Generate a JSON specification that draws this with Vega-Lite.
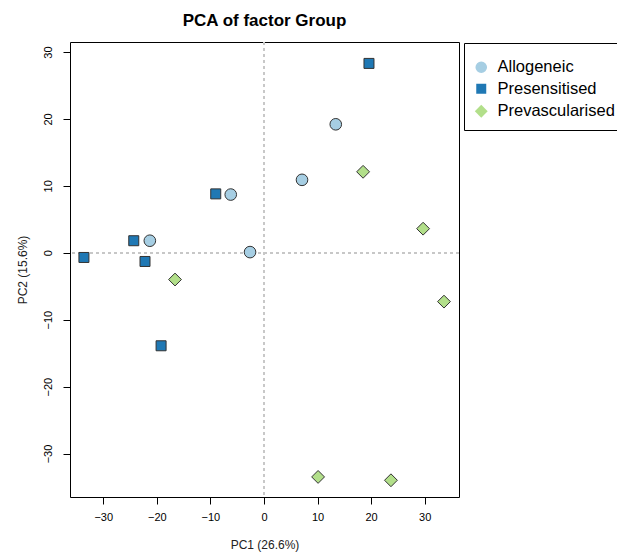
{
  "$schema": "https://vega.github.io/schema/vega-lite/v6.json",
  "width": 389,
  "height": 455,
  "autosize": {"type": "none"},
  "padding": {"left": 70, "top": 42, "right": 158, "bottom": 58},
  "background": "white",
  "title": {
    "text": "PCA of factor Group",
    "fontSize": 17,
    "fontWeight": "bold",
    "font": "Liberation Sans",
    "color": "black",
    "anchor": "middle",
    "frame": "group",
    "offset": 12
  },
  "config": {
    "view": {"stroke": "black", "strokeWidth": 1},
    "font": "Liberation Sans",
    "legend": {
      "orient": "none",
      "legendX": 394,
      "legendY": 1,
      "strokeColor": "black",
      "padding": 10,
      "titleFontSize": 4,
      "titlePadding": 2,
      "labelFontSize": 16.5,
      "labelColor": "black",
      "labelLimit": 300,
      "symbolStrokeColor": "#333333",
      "symbolStrokeWidth": 1,
      "symbolOffset": -1,
      "rowPadding": 4.5,
      "labelOffset": 8
    }
  },
  "data": {
    "values": [
      {"PC1": 13.4, "PC2": 19.2, "Group": "Allogeneic"},
      {"PC1": 7.1, "PC2": 10.9, "Group": "Allogeneic"},
      {"PC1": -6.2, "PC2": 8.7, "Group": "Allogeneic"},
      {"PC1": -21.3, "PC2": 1.8, "Group": "Allogeneic"},
      {"PC1": -2.6, "PC2": 0.1, "Group": "Allogeneic"},
      {"PC1": 19.6, "PC2": 28.3, "Group": "Presensitised"},
      {"PC1": -9.0, "PC2": 8.8, "Group": "Presensitised"},
      {"PC1": -24.3, "PC2": 1.8, "Group": "Presensitised"},
      {"PC1": -33.6, "PC2": -0.7, "Group": "Presensitised"},
      {"PC1": -22.2, "PC2": -1.3, "Group": "Presensitised"},
      {"PC1": -19.2, "PC2": -13.9, "Group": "Presensitised"},
      {"PC1": 18.5, "PC2": 12.1, "Group": "Prevascularised"},
      {"PC1": 29.7, "PC2": 3.6, "Group": "Prevascularised"},
      {"PC1": 33.6, "PC2": -7.3, "Group": "Prevascularised"},
      {"PC1": -16.6, "PC2": -4.0, "Group": "Prevascularised"},
      {"PC1": 10.1, "PC2": -33.5, "Group": "Prevascularised"},
      {"PC1": 23.7, "PC2": -34.0, "Group": "Prevascularised"}
    ]
  },
  "layer": [
    {
      "mark": {"type": "rule", "color": "#c8c8c8", "strokeDash": [3, 3], "strokeWidth": 1},
      "encoding": {"x": {"datum": 0, "type": "quantitative"}}
    },
    {
      "mark": {"type": "rule", "color": "#c8c8c8", "strokeDash": [3, 3], "strokeWidth": 1},
      "encoding": {"y": {"datum": 0, "type": "quantitative"}}
    },
    {
      "mark": {"type": "point", "filled": true, "stroke": "#333333", "strokeWidth": 1, "opacity": 1},
      "encoding": {
        "x": {
          "field": "PC1", "type": "quantitative",
          "scale": {"domain": [-36.2, 36.4], "nice": false, "zero": false},
          "axis": {
            "title": "PC1 (26.6%)",
            "values": [-30, -20, -10, 0, 10, 20, 30],
            "grid": false, "domain": false,
            "tickColor": "black", "tickSize": 7,
            "labelFontSize": 11, "labelColor": "black", "labelPadding": 7,
            "titleFontSize": 12, "titleFontWeight": "normal", "titleColor": "#222222", "titlePadding": 17
          }
        },
        "y": {
          "field": "PC2", "type": "quantitative",
          "scale": {"domain": [-36.5, 31.5], "nice": false, "zero": false},
          "axis": {
            "title": "PC2 (15.6%)",
            "values": [-30, -20, -10, 0, 10, 20, 30],
            "grid": false, "domain": false,
            "tickColor": "black", "tickSize": 7,
            "labelAngle": -90, "labelAlign": "center", "labelBaseline": "bottom",
            "labelFontSize": 11, "labelColor": "black", "labelPadding": 10,
            "titleFontSize": 12, "titleFontWeight": "normal", "titleColor": "#222222", "titlePadding": 13
          }
        },
        "fill": {
          "field": "Group", "type": "nominal", "title": " ",
          "scale": {"domain": ["Allogeneic", "Presensitised", "Prevascularised"], "range": ["#a6cee3", "#1f78b4", "#b2df8a"]},
          "legend": {
            "encode": {"symbols": {"update": {"stroke": {"value": "#333333"}, "strokeWidth": {"value": 1}}}}
          }
        },
        "shape": {
          "field": "Group", "type": "nominal", "title": " ",
          "scale": {"domain": ["Allogeneic", "Presensitised", "Prevascularised"], "range": ["circle", "square", "diamond"]}
        },
        "size": {
          "field": "Group", "type": "nominal", "title": " ",
          "scale": {"type": "ordinal", "domain": ["Allogeneic", "Presensitised", "Prevascularised"], "range": [135, 100, 165]}
        }
      }
    }
  ]
}
